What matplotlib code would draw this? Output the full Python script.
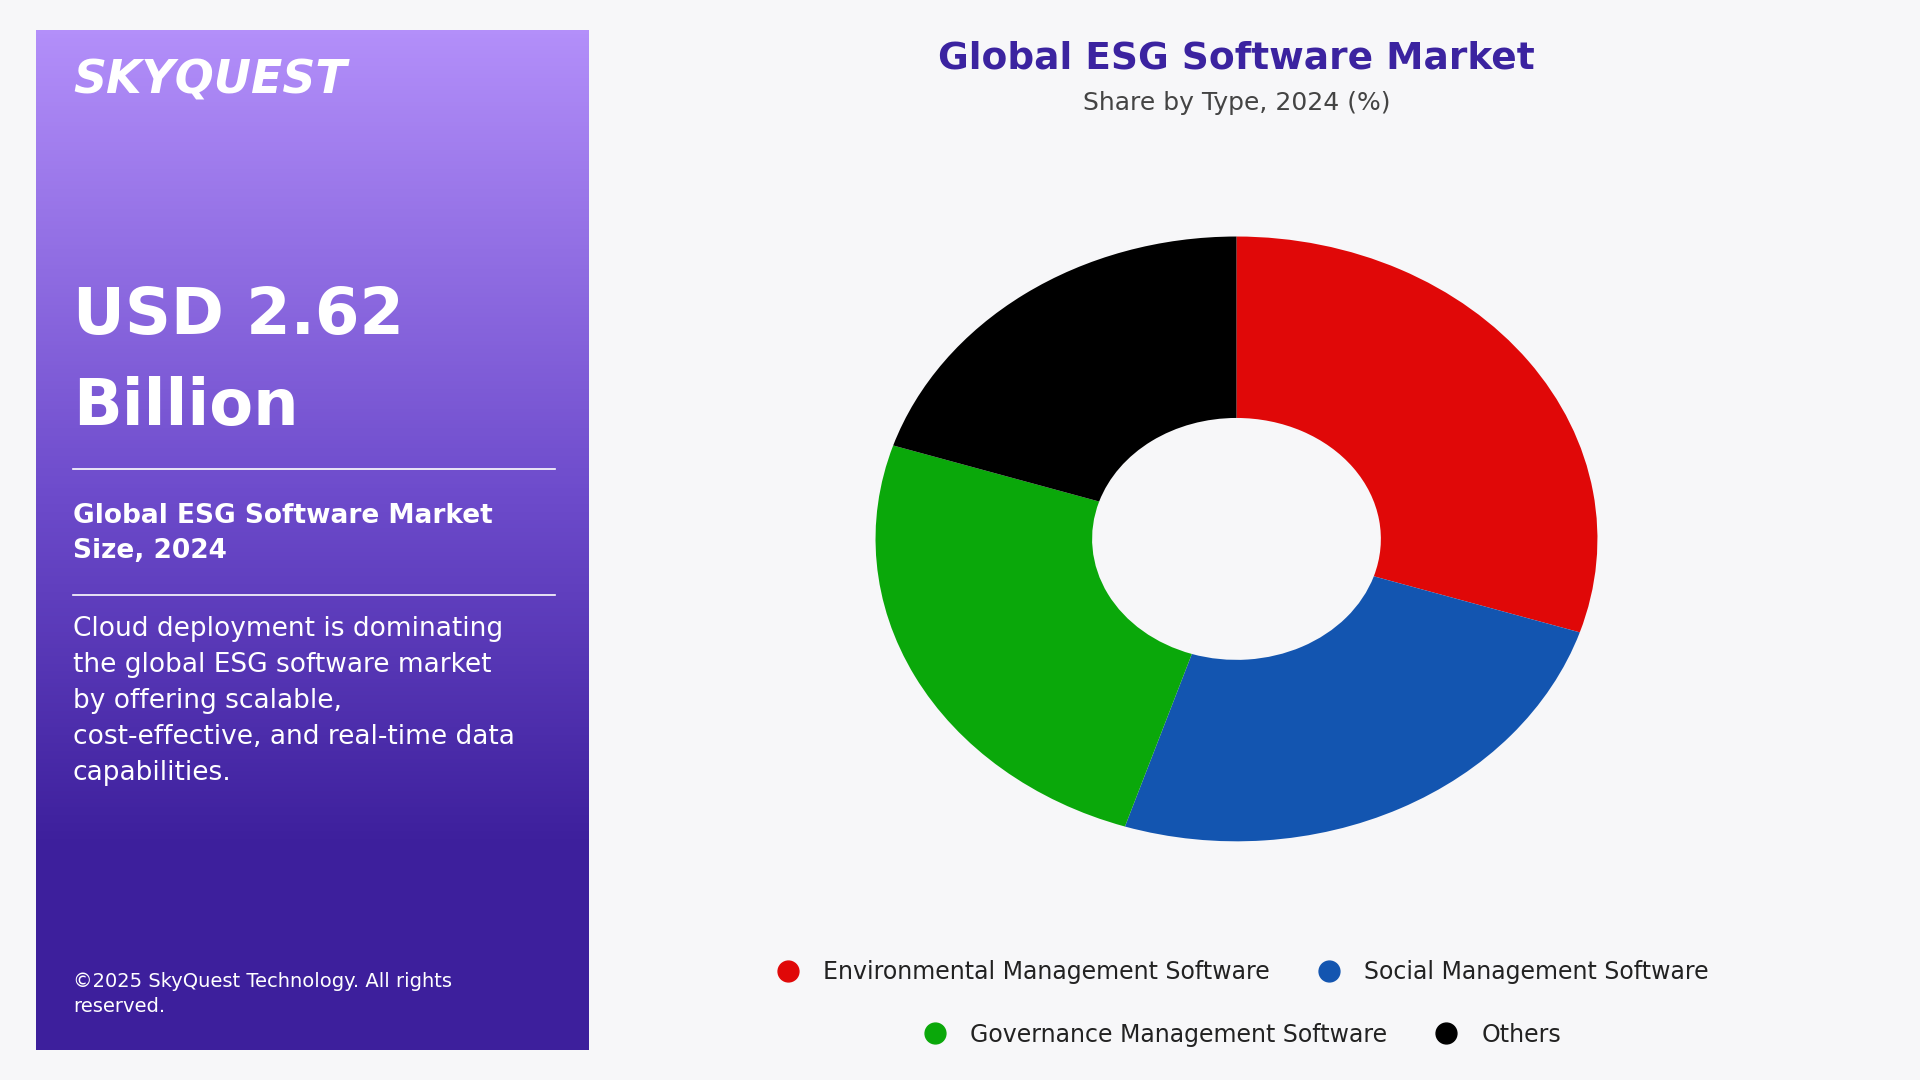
import numpy as np
import matplotlib.pyplot as plt
from matplotlib.lines import Line2D

# data
categories = ['Environmental Management Software', 'Social Management Software',
              'Governance Management Software', 'Others']
shares = [30, 25, 25, 20]
colors = ['#e00808', '#1355b0', '#0aa80a', '#000000']

FONT = 'DejaVu Sans'
fig = plt.figure(figsize=(19.2, 10.8), dpi=100)
fig.patch.set_facecolor('#f7f7f9')

# left gradient panel
pax = fig.add_axes([0.019, 0.028, 0.288, 0.944])
grad = np.linspace(0, 1, 256).reshape(-1, 1)
top = np.array([0xb3, 0x8f, 0xfa]) / 255
mid = np.array([0x6e, 0x4c, 0xcc]) / 255
bot = np.array([0x3d, 0x1f, 0x9c]) / 255
t = grad[:, 0]
rgb = np.where(t[:, None] < 0.45,
               top + (mid - top) * (t[:, None] / 0.45),
               mid + (bot - mid) * np.clip((t[:, None] - 0.45) / 0.35, 0, 1))
pax.imshow(rgb[:, None, :], aspect='auto', extent=[0, 1, 0, 1])
pax.set_xlim(0, 1); pax.set_ylim(0, 1)
pax.axis('off')

fig.text(0.038, 0.925, 'SKYQUEST', fontsize=33, fontweight='bold', fontstyle='italic',
         color='white', family=FONT, va='center')
fig.text(0.038, 0.707, 'USD 2.62', fontsize=46, fontweight='bold', color='white',
         family=FONT, va='center')
fig.text(0.038, 0.623, 'Billion', fontsize=46, fontweight='bold', color='white',
         family=FONT, va='center')
fig.add_artist(Line2D([0.038, 0.289], [0.566, 0.566], color='white', lw=1.2))
fig.text(0.038, 0.506, 'Global ESG Software Market\nSize, 2024', fontsize=19,
         fontweight='bold', color='white', family=FONT, va='center', linespacing=1.45)
fig.add_artist(Line2D([0.038, 0.289], [0.449, 0.449], color='white', lw=1.2))
fig.text(0.038, 0.43, 'Cloud deployment is dominating\nthe global ESG software market\n'
         'by offering scalable,\ncost-effective, and real-time data\ncapabilities.',
         fontsize=19, color='white', family=FONT, va='top', linespacing=1.5)
fig.text(0.038, 0.08, '\u00a92025 SkyQuest Technology. All rights\nreserved.', fontsize=14,
         color='white', family=FONT, va='center', linespacing=1.4)

# titles
fig.text(0.644, 0.946, 'Global ESG Software Market', fontsize=27, fontweight='bold',
         color='#3b23a0', family=FONT, ha='center', va='center')
fig.text(0.644, 0.905, 'Share by Type, 2024 (%)', fontsize=18, color='#444444',
         family=FONT, ha='center', va='center')

# donut (stretched ellipse)
ax = fig.add_axes([0.456, 0.221, 0.376, 0.56])
ax.pie(shares, colors=colors, startangle=90, counterclock=False,
       wedgeprops=dict(width=0.6, edgecolor='none'), radius=1)
ax.set_aspect('auto')
ax.set_xlim(-1, 1); ax.set_ylim(-1, 1)
ax.axis('off')

def handles(idx):
    return [Line2D([], [], marker='o', ls='none', ms=15, color=colors[i]) for i in idx]

leg_kw = dict(ncol=2, frameon=False, loc='center', handletextpad=0.5, columnspacing=1.5,
              prop={'family': FONT, 'size': 17})
l1 = fig.legend(handles([0, 1]), categories[0:2], bbox_to_anchor=(0.644, 0.1), **leg_kw)
for tx in l1.get_texts():
    tx.set_color('#222222')
l2 = fig.legend(handles([2, 3]), categories[2:4], bbox_to_anchor=(0.644, 0.042), **leg_kw)
for tx in l2.get_texts():
    tx.set_color('#222222')

fig.savefig('out.png', dpi=100, facecolor=fig.get_facecolor())
